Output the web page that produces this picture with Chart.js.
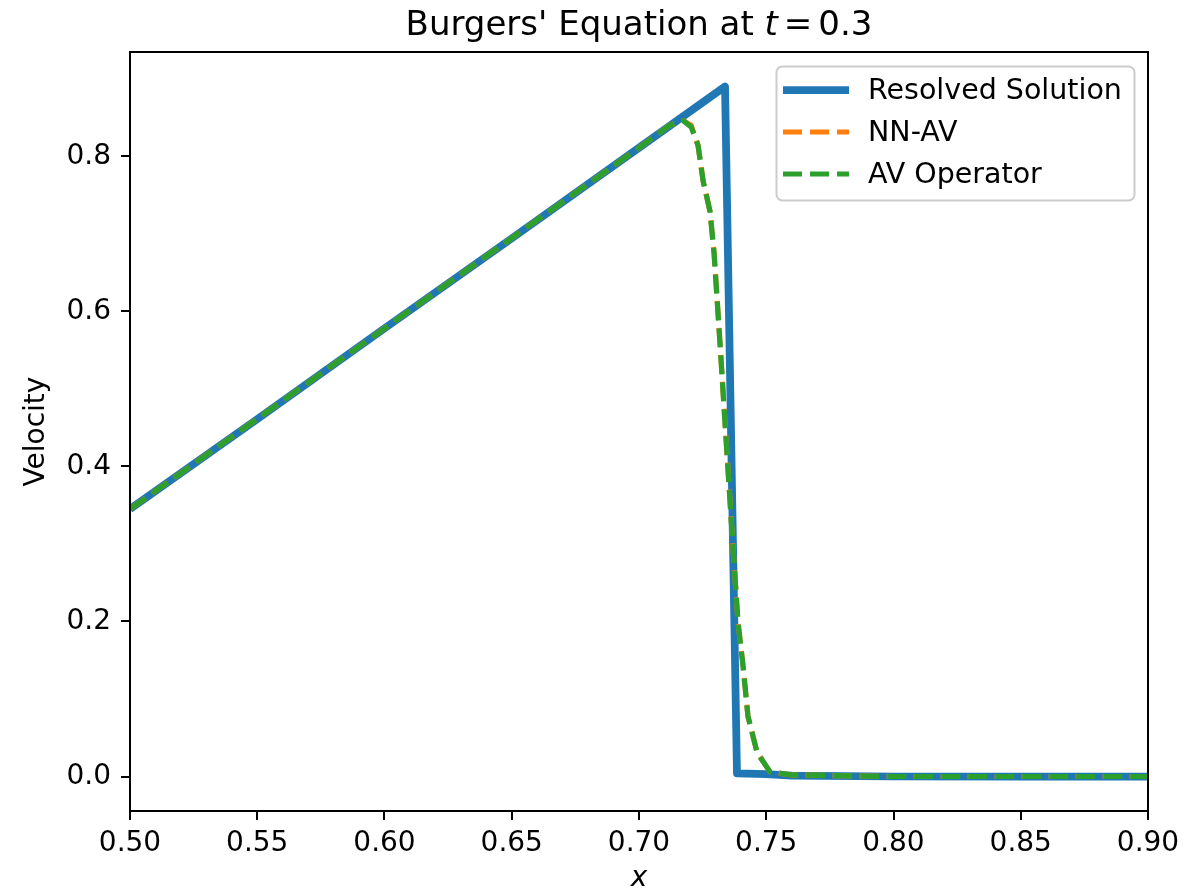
<!DOCTYPE html>
<html>
<head>
<meta charset="utf-8">
<script src="https://cdn.jsdelivr.net/npm/chart.js@4.4.1/dist/chart.umd.min.js"></script>
<style>
  html, body { margin: 0; padding: 0; background: #fff; }
  canvas { display: block; }
</style>
</head>
<body>
<canvas id="burgersChart" width="1191" height="893"></canvas>
<script>
// values
const resolvedX = [0.50, 0.55, 0.60, 0.65, 0.70, 0.7338, 0.7385, 0.75, 0.76, 0.80, 0.85, 0.90];
const resolvedY = [0.345, 0.461, 0.578, 0.694, 0.811, 0.890, 0.004, 0.003, 0.001, 0.0, 0.0, 0.0];

const nnavX = [0.50, 0.60, 0.70, 0.712, 0.7173, 0.7205, 0.7232, 0.7252, 0.7279, 0.7295, 0.7320, 0.7345, 0.7369, 0.7389, 0.7409, 0.7428, 0.7464, 0.7515, 0.76, 0.80, 0.90];
const nnavY = [0.345, 0.578, 0.811, 0.840, 0.846, 0.840, 0.814, 0.768, 0.729, 0.675, 0.550, 0.420, 0.297, 0.199, 0.142, 0.078, 0.031, 0.006, 0.002, 0.0, 0.0];

const avX = [0.50, 0.60, 0.70, 0.712, 0.7173, 0.7205, 0.7232, 0.7252, 0.7279, 0.7295, 0.7320, 0.7345, 0.7369, 0.7389, 0.7409, 0.7428, 0.7464, 0.7515, 0.76, 0.80, 0.90];
const avY = [0.345, 0.578, 0.811, 0.840, 0.846, 0.838, 0.814, 0.768, 0.729, 0.675, 0.550, 0.420, 0.297, 0.199, 0.142, 0.078, 0.031, 0.006, 0.002, 0.0, 0.0];

const xTicks = [0.50, 0.55, 0.60, 0.65, 0.70, 0.75, 0.80, 0.85, 0.90];
const yTicks = [0.0, 0.2, 0.4, 0.6, 0.8];

const FONT = "'DejaVu Sans', sans-serif";
const FS = 28;

function pts(xs, ys) {
    return xs.map((x, i) => ({ x: x, y: ys[i] }));
}

// frame around the axes (all four spines)
const framePlugin = {
    id: 'frame',
    afterDatasetsDraw(chart) {
        const a = chart.chartArea;
        const ctx = chart.ctx;
        ctx.save();
        ctx.strokeStyle = '#000';
        ctx.lineWidth = 2;
        ctx.strokeRect(a.left, a.top, a.right - a.left, a.bottom - a.top);
        ctx.restore();
    }
};

// title with the italic t
const titlePlugin = {
    id: 'mathTitle',
    afterDraw(chart) {
        const ctx = chart.ctx;
        const a = chart.chartArea;
        const parts = [
            { t: "Burgers' Equation at ", f: "34px " + FONT, gap: 0 },
            { t: "t", f: "italic 34px " + FONT, gap: 6 },
            { t: "=", f: "34px " + FONT, gap: 6 },
            { t: "0.3", f: "34px " + FONT, gap: 0 }
        ];
        ctx.save();
        let w = 0;
        parts.forEach(p => { ctx.font = p.f; w += ctx.measureText(p.t).width + p.gap; });
        let x = (a.left + a.right) / 2 - w / 2;
        ctx.fillStyle = '#000';
        ctx.textBaseline = 'alphabetic';
        parts.forEach(p => {
            ctx.font = p.f;
            ctx.fillText(p.t, x, 35);
            x += ctx.measureText(p.t).width + p.gap;
        });
        ctx.restore();
    }
};

// legend box in the upper right of the axes
const legendPlugin = {
    id: 'boxLegend',
    afterDraw(chart) {
        const ctx = chart.ctx;
        const bx = 776.5, by = 66.5, bw = 358, bh = 134, r = 6;
        ctx.save();
        ctx.beginPath();
        ctx.roundRect(bx, by, bw, bh, r);
        ctx.fillStyle = 'rgba(255,255,255,0.8)';
        ctx.fill();
        ctx.strokeStyle = '#cccccc';
        ctx.lineWidth = 2;
        ctx.stroke();
        chart.data.datasets.forEach((ds, i) => {
            const y = 90 + i * 42;
            ctx.beginPath();
            ctx.setLineDash(ds.borderDash || []);
            ctx.lineCap = 'butt';
            ctx.strokeStyle = ds.borderColor;
            ctx.lineWidth = ds.borderWidth;
            ctx.moveTo(783, y);
            ctx.lineTo(849, y);
            ctx.stroke();
            ctx.setLineDash([]);
            ctx.fillStyle = '#000';
            ctx.font = "28.5px " + FONT;
            ctx.textBaseline = 'middle';
            ctx.fillText(ds.label, 868, y + 2);
        });
        ctx.restore();
    }
};

new Chart(document.getElementById('burgersChart'), {
    type: 'line',
    data: {
        datasets: [{
            label: 'Resolved Solution',
            data: pts(resolvedX, resolvedY),
            borderColor: '#1f77b4',
            borderWidth: 7.75,
            borderJoinStyle: 'round',
            pointRadius: 0,
            tension: 0,
            order: 3
        }, {
            label: 'NN-AV',
            data: pts(nnavX, nnavY),
            borderColor: '#ff7f0e',
            borderWidth: 5.2,
            borderDash: [19, 8],
            borderJoinStyle: 'round',
            pointRadius: 0,
            tension: 0,
            order: 2
        }, {
            label: 'AV Operator',
            data: pts(avX, avY),
            borderColor: '#2ca02c',
            borderWidth: 5.2,
            borderDash: [19, 8],
            borderJoinStyle: 'round',
            pointRadius: 0,
            tension: 0,
            order: 1
        }]
    },
    options: {
        responsive: false,
        devicePixelRatio: 1,
        animation: false,
        clip: 0,
        layout: { padding: { top: 52, right: 43, left: 0, bottom: 0 } },
        plugins: {
            legend: { display: false },
            title: { display: false },
            tooltip: { enabled: false }
        },
        scales: {
            x: {
                type: 'linear',
                min: 0.5,
                max: 0.9,
                afterBuildTicks: s => { s.ticks = xTicks.map(v => ({ value: v })); },
                afterFit: s => { s.height = 82; },
                ticks: {
                    autoSkip: false,
                    maxRotation: 0,
                    padding: 7,
                    color: '#000',
                    font: { family: FONT, size: FS },
                    callback: v => v.toFixed(2)
                },
                grid: { drawOnChartArea: false, tickLength: 9, color: '#000', lineWidth: 2 },
                border: { display: false },
                title: {
                    display: true,
                    text: 'x',
                    color: '#000',
                    padding: 0,
                    font: { family: FONT, size: FS, style: 'italic', lineHeight: 1 }
                }
            },
            y: {
                min: -0.0445,
                max: 0.9345,
                afterBuildTicks: s => { s.ticks = yTicks.map(v => ({ value: v })); },
                afterFit: s => { s.width = 130; },
                ticks: {
                    padding: 10,
                    color: '#000',
                    font: { family: FONT, size: FS },
                    callback: v => v.toFixed(1)
                },
                grid: { drawOnChartArea: false, tickLength: 9, color: '#000', lineWidth: 2 },
                border: { display: false },
                title: {
                    display: true,
                    text: 'Velocity',
                    color: '#000',
                    padding: { top: 20, bottom: 0 },
                    font: { family: FONT, size: FS }
                }
            }
        }
    },
    plugins: [framePlugin, titlePlugin, legendPlugin]
});
</script>
</body>
</html>
